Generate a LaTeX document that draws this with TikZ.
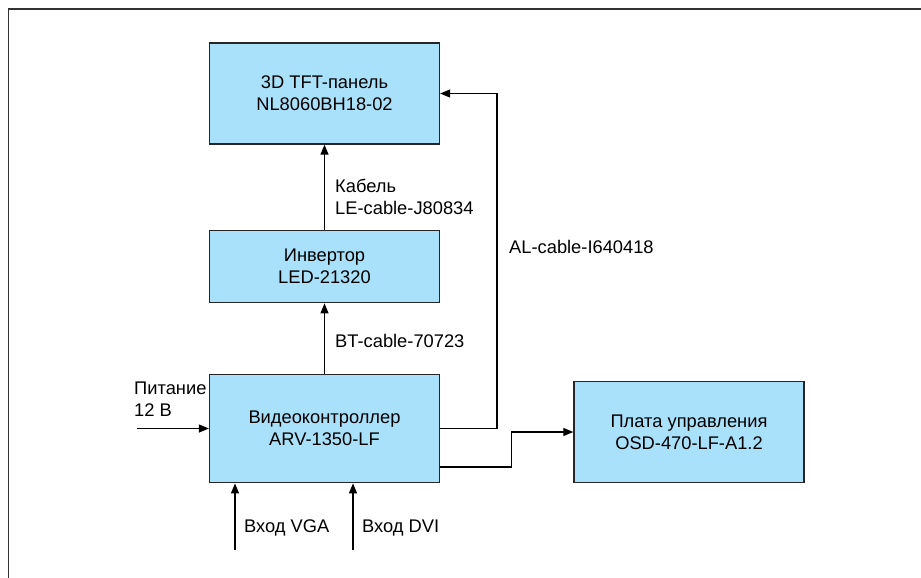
\documentclass[tikz,border=0pt]{standalone}
\usepackage{fontspec}
\setmainfont{Liberation Sans}
\usetikzlibrary{arrows.meta}
\definecolor{boxblue}{RGB}{170,225,250}

\begin{document}
\begin{tikzpicture}[x=1pt, y=-1pt,
  font=\fontsize{18.3}{22}\selectfont,
  unit/.style={draw=black!85, line width=1.3pt, fill=boxblue, align=center,
    minimum width=230pt, inner sep=0pt},
  link/.style={line width=1.2pt, -{Triangle[length=10pt, width=8pt]}},
  note/.style={anchor=west, align=left, inner sep=0pt}]
\useasboundingbox (0,0) rectangle (921,578);
\draw[line width=1.6pt, black!80] (8.5,578) -- (8.5,9) -- (921,9);
\node[unit, minimum height=101pt] (panel) at (324.5,93.5) {3D TFT-панель\\NL8060BH18-02};
\node[unit, minimum height=72.5pt] (inv) at (324.5,266.5) {Инвертор\\LED-21320};
\node[unit, minimum height=108.5pt] (video) at (324.5,428.5) {Видеоконтроллер\\ARV-1350-LF};
\node[unit, minimum height=101pt] (plate) at (689,432) {Плата управления\\OSD-470-LF-A1.2};
\coordinate (alturn) at (497,93.5);
\coordinate (pwr) at (137,428.5);
\coordinate (vga) at (235,550);
\coordinate (dvi) at (353,550);
\draw[link] (inv) -- (panel);
\draw[link] (video) -- (inv);
\draw[link] (video.east) -| (alturn) -- (panel.east);
\draw[link] ([yshift=-38.5pt]video.east) -- ++(71,0) |- (plate.west);
\draw[link] (pwr) -- (video.west);
\draw[link] (vga) -- (vga |- video.south);
\draw[link] (dvi) -- (dvi |- video.south);
\node[note] (cablele) at (335,196.5) {Кабель\\LE-cable-J80834};
\node[note] (cableal) at (509,247) {AL-cable-I640418};
\node[note] (cablebt) at (335,341) {BT-cable-70723};
\node[note] (power) at (134,399.5) {Питание\\12 В};
\node[note] (invga) at (244,528) {Вход VGA};
\node[note] (indvi) at (362,528) {Вход DVI};
\end{tikzpicture}
\end{document}
